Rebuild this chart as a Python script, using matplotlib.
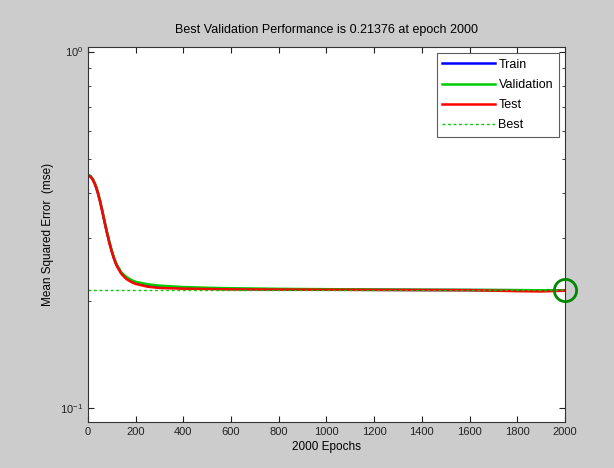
import matplotlib
matplotlib.use('Agg')
import matplotlib.pyplot as plt
from matplotlib.ticker import FixedLocator, NullFormatter, LogFormatterMathtext

plt.rcParams['font.family'] = ['Liberation Sans', 'DejaVu Sans']

epochs = [0, 10, 20, 30, 40, 50, 60, 70, 80, 90, 100, 110, 120, 140, 160, 180, 200, 250,
          300, 400, 500, 600, 800, 1000, 1200, 1400, 1600, 1800, 1900, 2000]
train = [0.450, 0.447, 0.438, 0.424, 0.405, 0.382, 0.357, 0.332, 0.310, 0.291, 0.275,
         0.262, 0.252, 0.239, 0.232, 0.2275, 0.2245, 0.2205, 0.2185, 0.217, 0.2162, 0.2157,
         0.2152, 0.2148, 0.2146, 0.2144, 0.2143, 0.2141, 0.2140, 0.2138]
validation = [0.451, 0.448, 0.439, 0.425, 0.406, 0.383, 0.358, 0.333, 0.311, 0.292, 0.276,
              0.263, 0.253, 0.240, 0.2335, 0.229, 0.226, 0.2225, 0.2205, 0.2185, 0.2175,
              0.2168, 0.2160, 0.2155, 0.2150, 0.2147, 0.2145, 0.2142, 0.2140, 0.21376]
test = [0.449, 0.446, 0.437, 0.423, 0.404, 0.381, 0.356, 0.331, 0.309, 0.290, 0.274,
        0.261, 0.251, 0.238, 0.2305, 0.226, 0.223, 0.219, 0.2172, 0.2162, 0.2157, 0.2153,
        0.2150, 0.2147, 0.2145, 0.2143, 0.2141, 0.2128, 0.2124, 0.2134]
best_epoch = 2000
best_perf = 0.21376

fig = plt.figure(figsize=(6.14, 4.68), dpi=100, facecolor='#cccccc')
ax = fig.add_axes([0.1433, 0.0983, 0.7768, 0.8013])
ax.set_facecolor('white')

ax.plot(epochs, train, color='#0000ff', lw=1.8, label='Train')
ax.plot(epochs, validation, color='#00cc00', lw=1.8, label='Validation')
ax.plot(epochs, test, color='#ff0000', lw=1.8, label='Test')
ax.plot([0, best_epoch], [best_perf, best_perf], color='#00cc00', lw=1, ls=(0, (2, 2)), label='Best')
ax.plot([best_epoch], [best_perf], marker='o', ms=16, mfc='none', mec='#008800', mew=2,
        clip_on=False, zorder=5)

ax.set_yscale('log')
ax.set_xlim(0, 2000)
ax.set_ylim(0.0914, 1.03)
ax.set_xticks(range(0, 2001, 200))
ax.yaxis.set_major_locator(FixedLocator([0.1, 1.0]))
ax.yaxis.set_major_formatter(LogFormatterMathtext())
ax.yaxis.set_minor_locator(FixedLocator([0.2, 0.3, 0.4, 0.5, 0.6, 0.7, 0.8, 0.9]))
ax.yaxis.set_minor_formatter(NullFormatter())
ax.tick_params(which='both', direction='in', top=True, right=True, labelsize=8, colors='#222222')
ax.tick_params(which='major', length=4)
ax.tick_params(which='minor', length=2.5)
for s in ax.spines.values():
    s.set_color('#333333')

ax.set_title('Best Validation Performance is 0.21376 at epoch 2000', fontsize=9, pad=10)
ax.set_xlabel('2000 Epochs', fontsize=8.5, labelpad=3)
ax.set_ylabel('Mean Squared Error  (mse)', fontsize=8.5, labelpad=0)
ax.yaxis.set_label_coords(-0.072, 0.5)

leg = ax.legend(loc='upper right', fontsize=9, frameon=True, fancybox=False,
                borderaxespad=0.5, handlelength=4.2, handletextpad=0.3,
                labelspacing=0.65, borderpad=0.45)
leg.get_frame().set_edgecolor('#333333')
leg.get_frame().set_linewidth(0.8)

fig.savefig('out.png', dpi=100, facecolor=fig.get_facecolor())
